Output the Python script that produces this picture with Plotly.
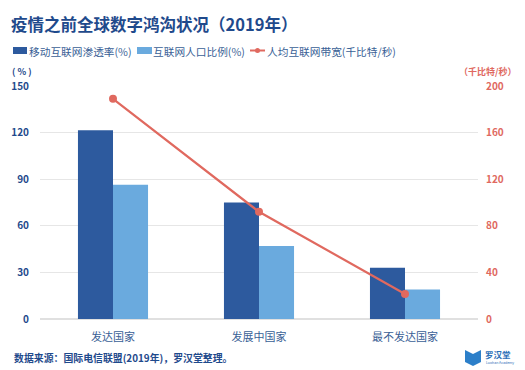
import plotly.graph_objects as go

categories = ["发达国家", "发展中国家", "最不发达国家"]
mobile = [121.5, 75, 33]
internet = [86.5, 47, 19]
bandwidth = [189, 92, 21.5]
left_ticks = [0, 30, 60, 90, 120, 150]
right_ticks = [0, 40, 80, 120, 160, 200]
series_names = ["移动互联网渗透率(%)", "互联网人口比例(%)", "人均互联网带宽(千比特/秒)"]

DARK = "#2d5a9e"
LIGHT = "#6aaade"
RED = "#e0695f"
NAVY = "#1f4a8c"
LEG = "#3a5f96"
FONT = "Noto Sans CJK SC"
OFF = 8  # page body margin
W, H = 525 - OFF, 370 - OFF
L, R, T, B = 40, 478, 86, 319


def px(x):
    return (x - L) / (R - L)


def py(y):
    return (B - y) / (B - T)


fig = go.Figure()
fig.add_bar(x=categories, y=mobile, name=series_names[0], marker_color=DARK, marker_line_width=0, yaxis="y")
fig.add_bar(x=categories, y=internet, name=series_names[1], marker_color=LIGHT, marker_line_width=0, yaxis="y")
fig.add_scatter(x=categories, y=bandwidth, name=series_names[2], mode="lines+markers",
                line=dict(color=RED, width=2.2), marker=dict(color=RED, size=8), yaxis="y2")

annos = [
    dict(x=px(9), y=py(24), text="<b>疫情之前全球数字鸿沟状况（2019年）</b>", font=dict(size=16.5, color=NAVY), xanchor="left"),
    dict(x=px(10), y=py(71), text="<b>( % )</b>", font=dict(size=9, color=NAVY), xanchor="left"),
    dict(x=px(518), y=py(71), text="<b>（千比特/秒）</b>", font=dict(size=9, color=RED), xanchor="right"),
    dict(x=px(12), y=py(358), text="<b>数据来源：国际电信联盟(2019年)，罗汉堂整理。</b>", font=dict(size=9.9, color=NAVY), xanchor="left"),
    dict(x=px(483), y=py(354), text="<b>罗汉堂</b>", font=dict(size=8.5, color="#2c6fb7"), xanchor="left"),
    dict(x=px(484), y=py(362), text="Luohan Academy", font=dict(size=3.5, color="#2c6fb7"), xanchor="left"),
    dict(x=px(27), y=py(51), text=series_names[0], font=dict(size=10.7, color=LEG), xanchor="left"),
    dict(x=px(151), y=py(51), text=series_names[1], font=dict(size=10.7, color=LEG), xanchor="left"),
    dict(x=px(265), y=py(51), text=series_names[2], font=dict(size=10.7, color=LEG), xanchor="left"),
]
for a in annos:
    a.update(xref="paper", yref="paper", showarrow=False, yanchor="middle")

logo = "M {} {} L {} {} L {} {} L {} {} L {} {} L {} {} Z".format(
    px(465), py(350), px(473), py(354), px(481), py(350), px(481), py(362), px(473), py(366), px(465), py(362))


def rect(x0, x1, y0, y1, color):
    return dict(type="rect", xref="paper", yref="paper", x0=px(x0), x1=px(x1), y0=py(y1), y1=py(y0),
                fillcolor=color, line=dict(width=0))


shapes = [
    dict(type="path", xref="paper", yref="paper", path=logo, fillcolor="#2c7fc9", line=dict(width=0)),
    rect(13, 27, 47, 54, DARK),
    rect(137, 152, 47, 54, LIGHT),
    dict(type="line", xref="paper", yref="paper", x0=px(250), x1=px(265), y0=py(50.5), y1=py(50.5),
         line=dict(color=RED, width=2)),
    dict(type="circle", xref="paper", yref="paper", x0=px(255), x1=px(260), y0=py(53), y1=py(48),
         fillcolor=RED, line=dict(width=0)),
]

fig.update_layout(
    width=W, height=H, autosize=False,
    paper_bgcolor="white", plot_bgcolor="white",
    font=dict(family=FONT),
    margin=dict(l=L - OFF, r=W - (R - OFF), t=T - OFF, b=H - (B - OFF)),
    barmode="group", bargap=0.52, bargroupgap=0,
    showlegend=False,
    xaxis=dict(tickfont=dict(size=11, color=LEG), showgrid=False, showline=False,
               ticks="", ticklabelstandoff=10, automargin=False),
    yaxis=dict(range=[0, 150], tickvals=left_ticks, tickfont=dict(size=10, color=NAVY, weight="bold"),
               gridcolor="#e6e6e6", gridwidth=1, zeroline=True, zerolinecolor="#e0e0e0", showline=False,
               ticks="", ticklabelstandoff=10, automargin=False),
    yaxis2=dict(range=[0, 200], tickvals=right_ticks, overlaying="y", side="right",
                tickfont=dict(size=10, color=RED, weight="bold"), showgrid=False, zeroline=False,
                showline=False, ticks="", ticklabelstandoff=7, automargin=False),
    annotations=annos,
    shapes=shapes,
)
fig.write_html("out.html")
